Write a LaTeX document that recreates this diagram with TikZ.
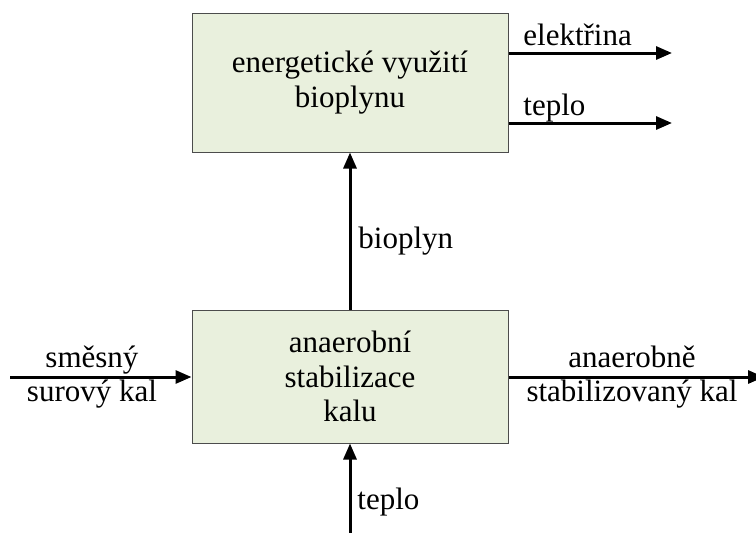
\documentclass[tikz,border=0pt]{standalone}
\usepackage{fontspec}
\setmainfont{Liberation Serif}
\usetikzlibrary{arrows.meta}
\definecolor{light-green}{RGB}{233,240,221}

\begin{document}
\begin{tikzpicture}[x=0.5pt,y=-0.5pt,font=\fontsize{15.5}{17.2}\selectfont,
  box/.style={draw=black!70,fill=light-green,line width=0.5pt,minimum width=158pt,align=center,inner sep=0pt},
  flow/.style={line width=1.5pt,-{Triangle[length=8pt,width=6.5pt]}},
  lbl/.style={anchor=base,inner sep=0pt}]
\useasboundingbox (0,0) rectangle (756,532);
% the two process blocks
\node[box,minimum height=69.5pt] (energie) at (350,82.5) {energetické využití\\bioplynu};
\node[box,minimum height=66.5pt] (stab) at (350,376.5) {anaerobní\\stabilizace\\kalu};
% free ends of the streams
\coordinate (elout) at (672,53);
\coordinate (tpout) at (672,123);
\coordinate (kalin) at (10,377);
\coordinate (kalout) at (764,377);
\coordinate (tpin) at (350,540);
% streams
\draw[flow] (stab.north) -- (energie.south);
\draw[flow] (energie.east |- elout) -- (elout);
\draw[flow] (energie.east |- tpout) -- (tpout);
\draw[flow] (kalin) -- (stab.west |- kalin);
\draw[flow] (stab.east |- kalout) -- (kalout);
\draw[flow] (tpin) -- (stab.south);
% stream labels
\node[lbl,anchor=base west] (elektrina) at (523,45) {elektřina};
\node[lbl,anchor=base west] (teplo1) at (523,115) {teplo};
\node[lbl,anchor=base west] (bioplyn) at (358,248) {bioplyn};
\node[lbl,anchor=base west] (teplo2) at (357,509) {teplo};
\node[lbl] (smesny) at (92,367) {směsný};
\node[lbl] (surovy) at (92,401) {surový kal};
\node[lbl] (anaerobne) at (632,367) {anaerobně};
\node[lbl] (stabkal) at (632,401) {stabilizovaný kal};
\end{tikzpicture}
\end{document}
